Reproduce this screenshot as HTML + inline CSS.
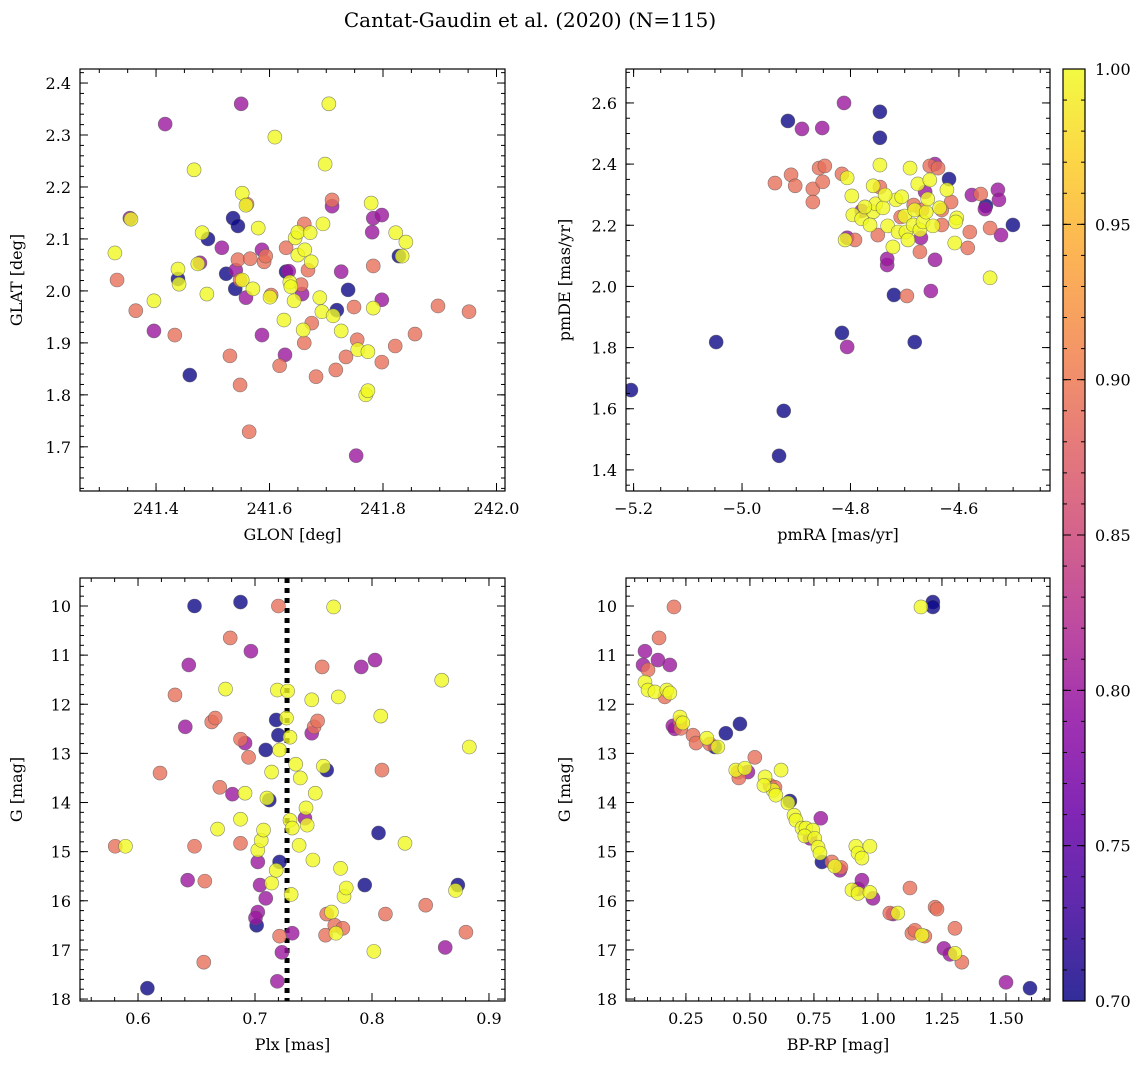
<!DOCTYPE html>
<html>
<head>
<meta charset="utf-8">
<style>
html,body{margin:0;padding:0;background:#fff;}
svg{display:block;font-family:"DejaVu Serif","Liberation Serif",serif;}
</style>
</head>
<body>
<svg id="fig" width="1148" height="1068" viewBox="0 0 1148 1068" xmlns="http://www.w3.org/2000/svg">
<rect width="1148" height="1068" fill="#fff"/>
<text x="530" y="27" font-size="20" text-anchor="middle">Cantat-Gaudin et al. (2020) (N=115)</text>
</svg>
<script>
// Panel 1: GLON vs GLAT
const p1Lon=[241.3275,241.3313,241.3558,241.3539,241.3643,241.3963,241.3963,241.4161,241.4331,241.4387,241.4387,241.4406,241.4595,241.467,241.4736,241.4774,241.4812,241.4915,241.4896,241.516,241.5236,241.5302,241.5358,241.5405,241.5396,241.5443,241.5443,241.55,241.5481,241.5481,241.5519,241.5519,241.5585,241.5603,241.5585,241.5641,241.566,241.5707,241.5801,241.5867,241.5867,241.5905,241.5933,241.6009,241.6028,241.6094,241.6178,241.6254,241.6273,241.6292,241.6292,241.6339,241.6358,241.6376,241.6433,241.6452,241.6499,241.6499,241.6556,241.6574,241.6593,241.6612,241.6612,241.6622,241.6678,241.6716,241.6735,241.6744,241.682,241.6886,241.6923,241.6942,241.698,241.7046,241.7102,241.7102,241.7121,241.7168,241.7187,241.7263,241.7263,241.7347,241.7385,241.7489,241.7527,241.7545,241.7555,241.7696,241.7734,241.7734,241.7791,241.7809,241.7828,241.7828,241.7828,241.7979,241.7979,241.7979,241.8215,241.8224,241.8281,241.8337,241.8403,241.8564,241.8969,241.9516];
const p1Lat=[2.073,2.021,2.138,2.140,1.962,1.923,1.981,2.321,1.915,2.042,2.023,2.013,1.838,2.233,2.052,2.054,2.112,2.100,1.994,2.083,2.033,1.875,2.140,2.040,2.004,2.125,2.060,2.360,2.021,1.819,2.188,2.021,2.165,2.167,1.987,1.729,2.062,2.004,2.121,2.079,1.915,2.056,2.067,1.988,1.992,2.296,1.856,1.944,1.877,2.083,2.037,2.038,2.017,2.008,1.981,2.102,2.113,2.069,2.012,1.994,1.925,1.900,2.129,2.079,2.040,2.112,2.056,1.938,1.835,1.987,1.960,2.129,2.244,2.360,2.163,2.175,1.952,1.848,1.963,2.037,1.923,1.873,2.002,1.969,1.683,1.906,1.887,1.800,1.883,1.808,2.169,2.113,2.140,2.048,1.967,1.863,2.146,1.983,1.894,2.112,2.067,2.067,2.094,1.917,1.971,1.960];
const p1Prob=[1,.89,1,.80,.89,.80,1,.80,.89,1,.70,1,.70,1,1,.80,1,.70,1,.80,.70,.89,.70,.80,.70,.70,.89,.80,.89,.89,1,1,1,.89,.80,.89,.89,1,1,.80,.80,.89,.89,1,.89,1,.89,1,.80,.89,.70,.80,1,1,1,1,1,1,.89,.80,1,.89,.89,1,.89,1,1,.89,.89,1,1,1,1,1,.80,.89,1,.89,.70,.80,1,.89,.70,.89,.80,.89,1,1,1,1,1,.80,.80,.89,1,.89,.80,.80,.89,1,.70,1,1,.89,.89,.89];

// Panel 2: pmRA vs pmDE
const p2Ra=[-5.2049,-5.0477,-4.9231,-4.9317,-4.9154,-4.8157,-4.7457,-4.7457,-4.7198,-4.6815,-4.6182,-4.5502,-4.5004,
-4.8895,-4.8521,-4.8119,-4.8061,-4.8061,-4.7323,-4.7323,-4.7793,-4.6441,-4.67,-4.6441,-4.6518,-4.5761,-4.5281,-4.5262,-4.5224,-4.5521,-4.6623,
-4.9393,-4.9096,-4.902,-4.8694,-4.8694,-4.8579,-4.8473,-4.8512,-4.8157,-4.7457,-4.7496,-4.6959,-4.6719,-4.6537,-4.6384,-4.6317,-4.6317,-4.6144,-4.5799,-4.5837,-4.5598,-4.5425,-4.6834,-4.7074,-4.7917,-4.6681,
-4.8099,-4.8061,-4.7975,-4.7956,-4.7793,-4.7582,-4.7582,-4.7534,-4.7457,-4.74,-4.7314,-4.7218,-4.716,-4.7122,-4.7055,-4.6997,-4.6978,-4.694,-4.6901,-4.6844,-4.6815,-4.6758,-4.6719,-4.6662,-4.6604,-4.6575,-4.6537,-4.648,-4.6355,-4.6077,-4.6039,-4.5425,-4.7361,-4.7639,-4.7735,-4.6058,-4.6221];
const p2De=[1.661,1.818,1.593,1.446,2.541,1.848,2.571,2.486,1.972,1.818,2.351,2.263,2.201,
2.515,2.518,2.600,1.802,2.159,2.070,2.090,2.247,2.400,2.159,2.087,1.985,2.299,2.316,2.283,2.168,2.253,2.309,
2.338,2.365,2.329,2.319,2.276,2.387,2.394,2.342,2.368,2.325,2.168,1.969,2.113,2.394,2.387,2.250,2.201,2.276,2.178,2.126,2.302,2.191,2.266,2.227,2.152,2.250,
2.152,2.355,2.296,2.234,2.221,2.329,2.244,2.270,2.397,2.257,2.198,2.129,2.283,2.178,2.293,2.230,2.178,2.152,2.387,2.201,2.250,2.335,2.185,2.211,2.243,2.286,2.348,2.198,2.257,2.142,2.224,2.028,2.299,2.201,2.260,2.211,2.316];
const p2Prob=[.70,.70,.70,.70,.70,.70,.70,.70,.70,.70,.70,.70,.70,
.80,.80,.80,.80,.80,.80,.80,.80,.80,.80,.80,.80,.80,.80,.80,.80,.80,.80,
.89,.89,.89,.89,.89,.89,.89,.89,.89,.89,.89,.89,.89,.89,.89,.89,.89,.89,.89,.89,.89,.89,.89,.89,.89,.89,
1,1,1,1,1,1,1,1,1,1,1,1,1,1,1,1,1,1,1,1,1,1,1,1,1,1,1,1,1,1,1,1,1,1,1,1,1];

// Panel 3: Plx vs G
const p3Plx=[0.6483,0.6876,0.6080,0.7181,0.7092,0.7200,0.7122,0.7210,0.7014,0.7613,0.7938,0.8056,0.8734,
0.6434,0.6404,0.6965,0.6915,0.6807,0.7024,0.7043,0.7092,0.7024,0.7004,0.6424,0.7230,0.7191,0.7318,0.7427,0.7485,0.7908,0.8026,0.8626,
0.5805,0.6188,0.6316,0.6483,0.6571,0.6562,0.6630,0.6660,0.6699,0.6788,0.6876,0.6876,0.6945,0.7200,0.7210,0.7505,0.7535,0.7574,0.7603,0.7613,0.7682,0.7751,0.8085,0.8115,0.8459,0.8803,
0.5893,0.6748,0.6680,0.6876,0.6915,0.7024,0.7053,0.7073,0.7102,0.7142,0.7142,0.7181,0.7191,0.7210,0.7269,0.7279,0.7299,0.7299,0.7309,0.7318,0.7348,0.7377,0.7387,0.7436,0.7446,0.7485,0.7495,0.7515,0.7584,0.7672,0.7712,0.7692,0.7653,0.7731,0.7761,0.7780,0.8016,0.8075,0.8282,0.8596,0.8832,0.8714];
const p3G=[10.0,9.92,17.78,12.32,12.93,12.63,13.95,15.21,16.50,13.34,15.68,14.62,15.68,
11.20,12.46,10.92,12.79,13.83,15.21,15.68,15.95,16.23,16.35,15.58,17.05,17.64,16.66,14.32,12.59,11.24,11.10,16.95,
14.89,13.40,11.81,14.89,15.60,17.25,12.36,12.28,13.69,10.65,12.71,14.83,13.08,10.0,16.72,12.46,12.34,11.24,16.70,16.27,16.50,16.56,13.34,16.27,16.09,16.64,
14.89,11.69,14.54,14.34,13.81,14.97,14.77,14.56,13.91,13.38,15.64,15.38,11.71,12.93,12.28,11.73,12.67,14.36,15.87,14.52,13.22,14.87,13.50,14.11,14.46,11.91,15.17,13.81,13.26,10.02,11.85,16.66,16.23,15.34,15.91,15.74,17.03,12.24,14.83,11.51,12.87,15.79];
const p3Prob=[.70,.70,.70,.70,.70,.70,.70,.70,.70,.70,.70,.70,.70,
.80,.80,.80,.80,.80,.80,.80,.80,.80,.80,.80,.80,.80,.80,.80,.80,.80,.80,.80,
.89,.89,.89,.89,.89,.89,.89,.89,.89,.89,.89,.89,.89,.89,.89,.89,.89,.89,.89,.89,.89,.89,.89,.89,.89,.89,
1,1,1,1,1,1,1,1,1,1,1,1,1,1,1,1,1,1,1,1,1,1,1,1,1,1,1,1,1,1,1,1,1,1,1,1,1,1,1,1,1,1];
const plxMean=[0.7274];

// Panel 4: BP-RP vs G
const p4Col=[1.2145,1.2145,1.5939,0.4610,0.4060,0.3629,0.6561,0.7811,
0.0901,0.0826,0.1408,0.1872,0.1990,0.2066,0.4922,0.7348,0.7768,0.8512,0.9374,0.9223,0.9806,1.0582,1.2576,1.2813,1.5002,
0.2033,0.1451,0.1020,0.1677,0.2270,0.2303,0.2777,0.2896,0.3435,0.5192,0.4534,0.4567,0.5785,0.5979,0.8199,0.8555,1.0463,1.1250,1.1326,1.1444,1.1832,1.2231,1.2307,1.3007,1.3277,
1.1681,0.0901,0.1020,0.1289,0.1753,0.1872,0.2270,0.2378,0.3316,0.3747,0.4448,0.4804,0.6216,0.5591,0.5903,0.6011,0.5547,0.6485,0.6723,0.6798,0.7035,0.7186,0.7456,0.7143,0.7531,0.7660,0.7736,0.8318,0.9137,0.9223,0.9687,0.9374,0.8986,0.9223,0.9687,1.0776,1.1714,1.3007];
const p4G=[9.92,10.02,17.78,12.40,12.59,12.87,13.97,15.21,
10.92,11.20,11.10,11.20,12.44,12.50,13.38,14.73,14.32,15.38,15.58,15.76,15.95,16.27,16.97,17.09,17.66,
10.02,10.65,11.30,11.85,12.36,12.49,12.63,12.79,12.81,13.08,13.38,13.50,13.65,13.69,15.21,15.32,16.25,15.74,16.66,16.60,16.72,16.13,16.17,16.56,17.25,
10.02,11.55,11.71,11.75,11.71,11.77,12.26,12.38,12.69,12.87,13.34,13.30,13.34,13.48,13.75,13.85,13.65,14.01,14.26,14.36,14.52,14.52,14.56,14.68,14.73,14.91,15.03,15.30,14.89,15.03,14.89,15.13,15.78,15.85,15.83,16.25,16.70,17.07];
const p4Prob=[.70,.70,.70,.70,.70,.70,.70,.70,
.80,.80,.80,.80,.80,.80,.80,.80,.80,.80,.80,.80,.80,.80,.80,.80,.80,
.89,.89,.89,.89,.89,.89,.89,.89,.89,.89,.89,.89,.89,.89,.89,.89,.89,.89,.89,.89,.89,.89,.89,.89,.89,
1,1,1,1,1,1,1,1,1,1,1,1,1,1,1,1,1,1,1,1,1,1,1,1,1,1,1,1,1,1,1,1,1,1,1,1,1,1];

// Colorbar ticks
const cbTicks=[0.70,0.75,0.80,0.85,0.90,0.95,1.00];

const NS='http://www.w3.org/2000/svg';
const fig=document.getElementById('fig');
const plasma=['#0d0887','#41049d','#6a00a8','#8f0da4','#b12a90','#cc4778','#e16462','#f2844b','#fca636','#fcce25','#f0f921'];
function hex(h){return [parseInt(h.substr(1,2),16),parseInt(h.substr(3,2),16),parseInt(h.substr(5,2),16)];}
function cmap(v){
  if(v===undefined||isNaN(v)) v=1;
  let t=Math.max(0,Math.min(1,(v-0.7)/0.3))*10;
  let i=Math.min(9,Math.floor(t)),f=t-i;
  const a=hex(plasma[i]),b=hex(plasma[i+1]);
  return 'rgb('+a.map((c,k)=>Math.round(c+(b[k]-c)*f)).join(',')+')';
}
function mk(tag,attrs,parent){
  const e=document.createElementNS(NS,tag);
  for(const k in attrs)e.setAttribute(k,attrs[k]);
  (parent||fig).appendChild(e);return e;
}
function ticksRange(a,b,step){
  const lo=Math.min(a,b),hi=Math.max(a,b),out=[];
  for(let v=Math.ceil(lo/step-1e-6)*step;v<=hi+1e-9;v+=step)out.push(Math.round(v/step)*step);
  return out;
}
function panel(o){
  const g=mk('g',{});
  
  
  const {x0,x1,y0,y1}=o.box;
  const sx=v=>x0+(v-o.xr[0])/(o.xr[1]-o.xr[0])*(x1-x0);
  const sy=v=>y0+(v-o.yr[0])/(o.yr[1]-o.yr[0])*(y1-y0);
  const clip='clip-'+o.name;
  const cp=mk('clipPath',{id:clip},g);
  mk('rect',{x:x0,y:y0,width:x1-x0,height:y1-y0},cp);
  const pg=mk('g',{'clip-path':'url(#'+clip+')'},g);
  if(o.vline){
    const l=mk('line',{x1:sx(o.vline[0]),x2:sx(o.vline[0]),y1:y0,y2:y1,stroke:'#000','stroke-width':5,'stroke-dasharray':'5,5'},pg);
    
    
  }
  const n=Math.min(o.xs.length,o.ys.length);
  const idx=[];for(let i=0;i<n;i++)idx.push(i);
  idx.sort((a,b)=>(o.cs[a]===undefined?1:o.cs[a])-(o.cs[b]===undefined?1:o.cs[b]));
  idx.forEach(i=>{
    const c=mk('circle',{cx:sx(o.xs[i]),cy:sy(o.ys[i]),r:7,fill:cmap(o.cs[i]),'fill-opacity':0.8,stroke:'#555','stroke-width':0.6,'stroke-opacity':0.7},pg);
    
    
  });
  const tg=mk('g',{stroke:'#000','stroke-width':1},g);
  ticksRange(o.xr[0],o.xr[1],o.xminor).forEach(v=>{const X=sx(v);mk('line',{x1:X,x2:X,y1:y1,y2:y1-4},tg);mk('line',{x1:X,x2:X,y1:y0,y2:y0+4},tg);});
  ticksRange(o.yr[0],o.yr[1],o.yminor).forEach(v=>{const Y=sy(v);mk('line',{x1:x0,x2:x0+4,y1:Y,y2:Y},tg);mk('line',{x1:x1,x2:x1-4,y1:Y,y2:Y},tg);});
  ticksRange(o.xr[0],o.xr[1],o.xmajor).forEach(v=>{const X=sx(v);mk('line',{x1:X,x2:X,y1:y1,y2:y1-8},tg);mk('line',{x1:X,x2:X,y1:y0,y2:y0+8},tg);
    const t=mk('text',{x:X,y:y1+23,'font-size':16,'text-anchor':'middle'},g);t.textContent=o.fx(v);
    });
  ticksRange(o.yr[0],o.yr[1],o.ymajor).forEach(v=>{const Y=sy(v);mk('line',{x1:x0,x2:x0+8,y1:Y,y2:Y},tg);mk('line',{x1:x1,x2:x1-8,y1:Y,y2:Y},tg);
    const t=mk('text',{x:x0-9,y:Y+6,'font-size':16,'text-anchor':'end'},g);t.textContent=o.fy(v);
    });
  const fr=mk('rect',{x:x0,y:y0,width:x1-x0,height:y1-y0,fill:'none',stroke:'#000','stroke-width':1.2},g);
  
  const xl=mk('text',{x:(x0+x1)/2,y:y1+49,'font-size':16,'text-anchor':'middle'},g);xl.textContent=o.xlabel;
  
  const yl=mk('text',{x:0,y:0,'font-size':16,'text-anchor':'middle',transform:'translate('+(o.ylx)+','+((y0+y1)/2)+') rotate(-90)'},g);yl.textContent=o.ylabel;
  
}
const f1=v=>v.toFixed(1), f0=v=>String(Math.round(v)), f2=v=>v.toFixed(2);
panel({name:'glon-glat-panel',box:{x0:80,x1:505,y0:69,y1:491},xr:[241.266,242.015],yr:[2.427,1.615],xmajor:0.2,xminor:0.05,ymajor:0.1,yminor:0.02,xs:p1Lon,ys:p1Lat,cs:p1Prob,fx:f1,fy:f1,xlabel:'GLON [deg]',ylabel:'GLAT [deg]',ylx:22});
panel({name:'proper-motion-panel',box:{x0:626,x1:1050,y0:69,y1:491},xr:[-5.214,-4.432],yr:[2.711,1.331],xmajor:0.2,xminor:0.05,ymajor:0.2,yminor:0.05,xs:p2Ra,ys:p2De,cs:p2Prob,fx:v=>v.toFixed(1).replace('-','\u2212'),fy:f1,xlabel:'pmRA [mas/yr]',ylabel:'pmDE [mas/yr]',ylx:570});
panel({name:'parallax-mag-panel',box:{x0:80,x1:505,y0:578,y1:1001},xr:[0.5504,0.9137],yr:[9.43,18.04],xmajor:0.1,xminor:0.02,ymajor:1,yminor:0.2,xs:p3Plx,ys:p3G,cs:p3Prob,fx:f1,fy:f0,xlabel:'Plx [mas]',ylabel:'G [mag]',ylx:22,vline:plxMean});
panel({name:'cmd-panel',box:{x0:626,x1:1050,y0:578,y1:1001},xr:[0.016,1.672],yr:[9.43,18.04],xmajor:0.25,xminor:0.05,ymajor:1,yminor:0.2,xs:p4Col,ys:p4G,cs:p4Prob,fx:f2,fy:f0,xlabel:'BP-RP [mag]',ylabel:'G [mag]',ylx:570});

// colorbar
const cb=mk('g',{});


const defs=mk('defs',{},cb);
const lg=mk('linearGradient',{id:'cbg',x1:0,y1:1,x2:0,y2:0},defs);
plasma.forEach((c,i)=>mk('stop',{offset:i/10,'stop-color':c,'stop-opacity':0.85},lg));
const cx0=1063,cx1=1085,cy0=69,cy1=1001;
const csy=v=>cy1-(v-0.7)/0.3*(cy1-cy0);
mk('rect',{x:cx0,y:cy0,width:cx1-cx0,height:cy1-cy0,fill:'url(#cbg)'},cb);
for(let k=0;k<=30;k++){const Y=csy(0.7+k*0.01);mk('line',{x1:cx1,x2:cx1-4,y1:Y,y2:Y,stroke:'#000'},cb);mk('line',{x1:cx0,x2:cx0+4,y1:Y,y2:Y,stroke:'#000'},cb);}
cbTicks.forEach(v=>{const Y=csy(v);mk('line',{x1:cx1,x2:cx1-8,y1:Y,y2:Y,stroke:'#000'},cb);mk('line',{x1:cx0,x2:cx0+8,y1:Y,y2:Y,stroke:'#000'},cb);
  const t=mk('text',{x:1095,y:Y+6,'font-size':16},cb);t.textContent=v.toFixed(2);
  });
mk('rect',{x:cx0,y:cy0,width:cx1-cx0,height:cy1-cy0,fill:'none',stroke:'#000','stroke-width':1.2},cb);
</script>
</body>
</html>
